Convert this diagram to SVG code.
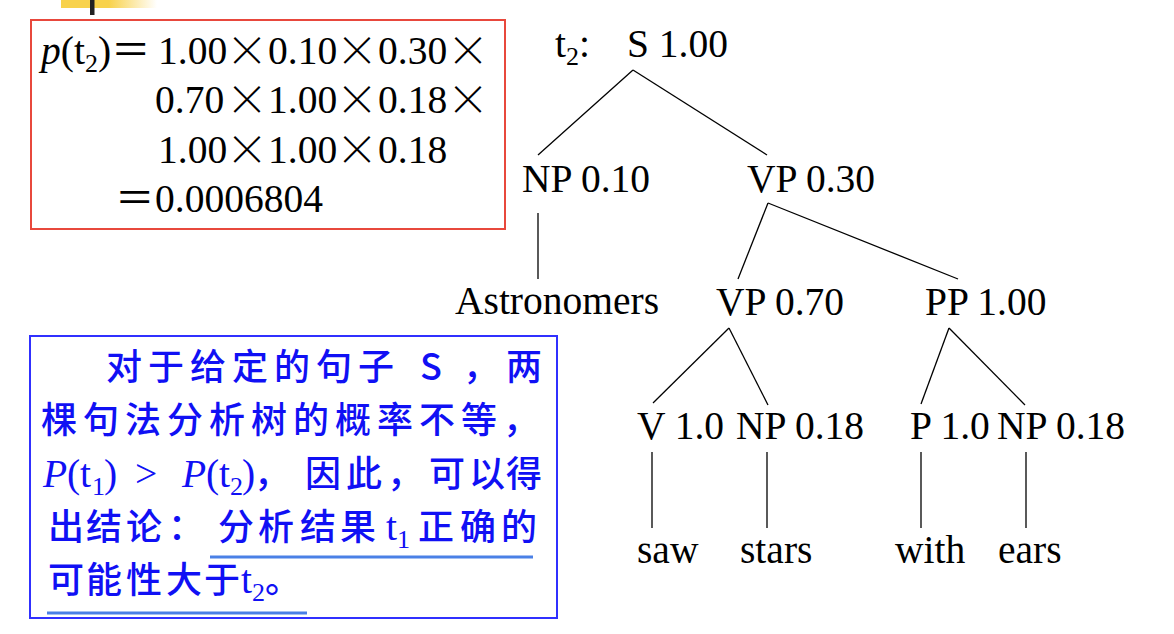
<svg xmlns="http://www.w3.org/2000/svg" width="1174" height="634" viewBox="0 0 1174 634">
<defs>
<linearGradient id="yg" x1="0" y1="0" x2="1" y2="0">
<stop offset="0" stop-color="#f8d24c"/>
<stop offset="0.5" stop-color="#f8d24c"/>
<stop offset="1" stop-color="#ffffff"/>
</linearGradient>
<style>
.tn{font-family:"Liberation Serif","Times New Roman",serif;font-size:39.5px;fill:#000}
.sub{font-size:26px}
.op{font-family:"Noto Sans CJK SC",sans-serif;font-size:39.5px}
.mul{font-family:"Noto Sans CJK SC",sans-serif;font-size:42px;font-weight:300;fill:#000}
.cj{font-family:"Noto Sans CJK SC",sans-serif;font-size:36px;font-weight:500;fill:#1010f4}
.bl{font-family:"Liberation Serif","Times New Roman",serif;font-size:39.5px;fill:#1010f4}
.edge{stroke:#000;stroke-width:1.3;fill:none}
.ul{stroke:#4a80e6;stroke-width:3}
</style>
</defs>
<rect width="1174" height="634" fill="#fff"/>
<g id="slide-deco">
<rect x="61" y="0" width="96" height="8" fill="url(#yg)"/>
<rect x="90" y="0" width="4.5" height="15" fill="#222"/>
</g>
<g id="formula">
<rect x="31" y="20" width="474" height="209" fill="none" stroke="#e8483c" stroke-width="2"/>
<text class="tn" y="64"><tspan x="41" font-style="italic">p</tspan>(t<tspan class="sub" dy="8">2</tspan><tspan dy="-8">)</tspan><tspan class="op" x="111" y="64">＝</tspan><tspan x="158" y="64">1.00</tspan><tspan x="268" y="64">0.10</tspan><tspan x="378" y="64">0.30</tspan></text>
<text class="mul" x="247" y="66" text-anchor="middle">×</text>
<text class="mul" x="357" y="66" text-anchor="middle">×</text>
<text class="mul" x="468" y="66" text-anchor="middle">×</text>
<text class="tn" y="113"><tspan x="155">0.70</tspan><tspan x="268" y="113">1.00</tspan><tspan x="378" y="113">0.18</tspan></text>
<text class="mul" x="247" y="115" text-anchor="middle">×</text>
<text class="mul" x="357" y="115" text-anchor="middle">×</text>
<text class="mul" x="468" y="115" text-anchor="middle">×</text>
<text class="tn" y="163"><tspan x="158">1.00</tspan><tspan x="268" y="163">1.00</tspan><tspan x="378" y="163">0.18</tspan></text>
<text class="mul" x="247" y="165" text-anchor="middle">×</text>
<text class="mul" x="357" y="165" text-anchor="middle">×</text>
<text class="tn" y="212"><tspan class="op" x="115">＝</tspan><tspan x="155">0.0006804</tspan></text>
</g>
<g id="conclusion">
<rect x="30" y="336" width="527" height="282" fill="none" stroke="#3030ff" stroke-width="2"/>
<text class="cj" y="380"><tspan x="106 148 190 232 274 316 358">对于给定的句子</tspan><tspan x="420">S</tspan><tspan x="463">，</tspan><tspan x="506">两</tspan></text>
<text class="cj" y="433" x="41 83 125 167 209 251 293 335 377 419 461 503">棵句法分析树的概率不等，</text>
<text class="bl" y="487"><tspan x="43" font-style="italic">P</tspan><tspan x="67">(</tspan><tspan x="80">t</tspan><tspan class="sub" x="92" dy="8">1</tspan><tspan x="104" dy="-8">)</tspan><tspan x="135">&gt;</tspan><tspan x="182" font-style="italic">P</tspan><tspan x="206">(</tspan><tspan x="219">t</tspan><tspan class="sub" x="230" dy="8">2</tspan><tspan x="242" dy="-8">)</tspan></text>
<text class="cj" y="487" x="254 305 346 387 429 469 506">，因此，可以得</text>
<text class="cj" y="540" x="48 86 126 168 218 258 300 340">出结论：分析结果</text>
<text class="bl" y="540" x="386">t<tspan class="sub" dy="8">1</tspan></text>
<text class="cj" y="540" x="418 460 501">正确的</text>
<line class="ul" x1="210" y1="557" x2="533" y2="557"/>
<text class="cj" y="593" x="48 86 126 166 204">可能性大于</text>
<text class="bl" y="593" x="241">t<tspan class="sub" dy="8">2</tspan></text>
<text class="cj" y="593" x="265">。</text>
<line class="ul" x1="47" y1="613" x2="307" y2="613"/>
</g>
<g id="connectors">
<line class="edge" x1="633" y1="70" x2="538" y2="155"/>
<line class="edge" x1="633" y1="70" x2="767" y2="155"/>
<line class="edge" x1="538" y1="213" x2="538" y2="279" stroke="#444" stroke-width="1.6"/>
<line class="edge" x1="768" y1="203" x2="738" y2="279"/>
<line class="edge" x1="768" y1="203" x2="958" y2="279"/>
<line class="edge" x1="729" y1="328" x2="653" y2="403"/>
<line class="edge" x1="729" y1="328" x2="768" y2="405"/>
<line class="edge" x1="949" y1="328" x2="921" y2="404"/>
<line class="edge" x1="949" y1="328" x2="1025" y2="405"/>
<line class="edge" x1="652" y1="452" x2="652" y2="528"/>
<line class="edge" x1="767" y1="452" x2="767" y2="528"/>
<line class="edge" x1="921" y1="452" x2="921" y2="528"/>
<line class="edge" x1="1026" y1="452" x2="1026" y2="528"/>
</g>
<g id="label-t2"><text class="tn" x="555" y="57">t<tspan class="sub" dy="8">2</tspan><tspan dy="-8">:</tspan></text></g>
<g id="node-S"><text class="tn" x="627" y="57">S 1.00</text></g>
<g id="node-NP1"><text class="tn" x="522" y="192">NP 0.10</text></g>
<g id="node-VP1"><text class="tn" x="747" y="192">VP 0.30</text></g>
<g id="node-astronomers"><text class="tn" x="455" y="314">Astronomers</text></g>
<g id="node-VP2"><text class="tn" x="716" y="315">VP 0.70</text></g>
<g id="node-PP"><text class="tn" x="925" y="315">PP 1.00</text></g>
<g id="node-V"><text class="tn" x="637" y="439">V 1.0</text></g>
<g id="node-NP2"><text class="tn" x="736" y="439">NP 0.18</text></g>
<g id="node-P"><text class="tn" x="910" y="439">P 1.0</text></g>
<g id="node-NP3"><text class="tn" x="997" y="439">NP 0.18</text></g>
<g id="node-saw"><text class="tn" x="637" y="563">saw</text></g>
<g id="node-stars"><text class="tn" x="740" y="563">stars</text></g>
<g id="node-with"><text class="tn" x="895" y="563">with</text></g>
<g id="node-ears"><text class="tn" x="998" y="563">ears</text></g>
</svg>
